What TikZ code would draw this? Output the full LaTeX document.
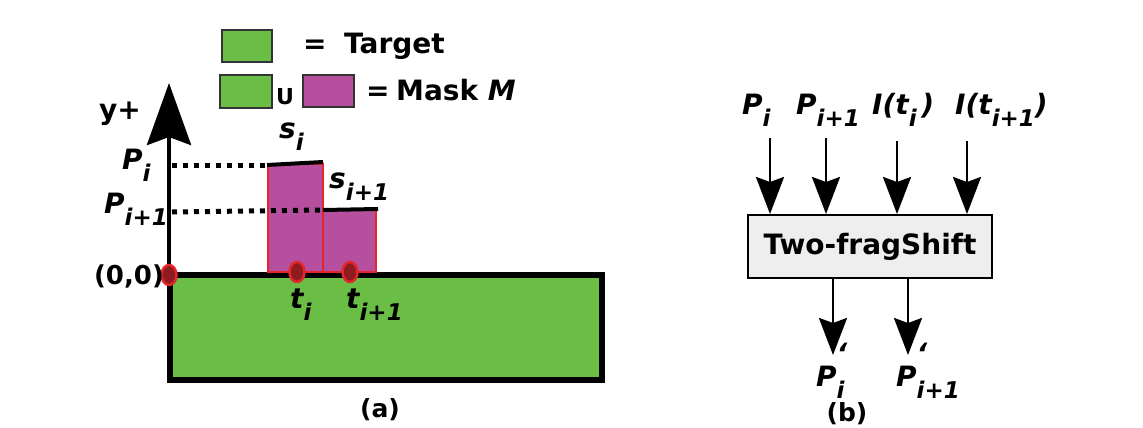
\documentclass[tikz,border=0pt]{standalone}
\usepackage{fontspec}
\setmainfont{DejaVu Sans}
\usetikzlibrary{arrows.meta,shapes.geometric}
\definecolor{tgreen}{HTML}{6ABD45}
\definecolor{mmag}{HTML}{B6509E}
\definecolor{mred}{HTML}{E3262B}
\definecolor{dred}{HTML}{8E1B1E}
\definecolor{boxgray}{HTML}{EEEEEE}
\definecolor{legline}{HTML}{333333}

% symbol with a lowered subscript
\newcommand{\lsub}[2]{#1\raisebox{-0.45em}{\fontsize{23}{23}\selectfont #2}}
% symbol with a lowered subscript and a grave mark above it
\newcommand{\lsubg}[2]{#1\rlap{\raisebox{0.8em}{\symbol{"60}}}\raisebox{-0.45em}{\fontsize{23}{23}\selectfont #2}}

\begin{document}
\begin{tikzpicture}[x=1pt,y=-1pt,
  lbl/.style={font=\fontsize{28}{28}\selectfont\bfseries\itshape, inner sep=0pt, anchor=base west},
  txt/.style={font=\fontsize{28}{28}\selectfont\bfseries, inner sep=0pt},
  legbox/.style={draw=legline, line width=1.5pt},
  maskbox/.style={fill=mmag, draw=mred, line width=2pt},
  pt/.style={shape=ellipse, fill=dred, draw=mred, line width=2.5pt, minimum width=15pt, minimum height=20pt, inner sep=0pt},
  level/.style={line width=5pt, dash pattern=on 5pt off 6pt},
  topline/.style={line width=4pt},
  flow/.style={line width=2.7pt, -{Stealth[length=37pt,width=28pt,inset=5pt]}},
  fragbox/.style={draw, fill=boxgray, line width=2pt, minimum width=244pt, minimum height=63pt, inner sep=0pt,
    font=\fontsize{28}{28}\selectfont\bfseries}]

\useasboundingbox (0,0) rectangle (1143,428);

% ---------- legend ----------
\draw[legbox, fill=tgreen] (222,30) rectangle (272,62);
\node[txt, anchor=base west] (eq1) at (303,54) {=};
\node[txt, anchor=base west] (ltarget) at (344,54) {Target};
\draw[legbox, fill=tgreen] (220,75) rectangle (272,108);
\node[txt, font=\fontsize{22}{22}\selectfont\bfseries] (lunion) at (285,97) {U};
\draw[legbox, fill=mmag] (303,75) rectangle (354,107);
\node[txt, anchor=base west] (eq2) at (366,100) {=};
\node[txt, anchor=base west] (lmask) at (396,100) {Mask \textit{M}};

% ---------- (a): target region and mask ----------
\draw[line width=6pt, fill=tgreen] (170,275) rectangle (602,380);
\coordinate (orig) at (169,275);
\coordinate (ytip) at (169,83);
\draw[line width=4.5pt, -{Stealth[length=62pt,width=44pt,inset=8pt]}] (orig) -- (ytip);
\node[txt, anchor=base west] (yplus) at (99,119) {y+};

\draw[maskbox] (268,272) rectangle (323,164);
\draw[maskbox] (323,272) rectangle (376,210);
\coordinate (si0) at (267,165);
\coordinate (si1) at (323,162);
\coordinate (sj0) at (323,210);
\coordinate (sj1) at (378,209);
\draw[topline] (si0) -- (si1);
\draw[topline] (sj0) -- (sj1);

\coordinate (pa) at (172,165);
\coordinate (pb) at (172,212);
\draw[level] (pa) -- (si0);
\draw[level] (pb) -- (sj0);

\node[pt] (o) at (169,275) {};
\node[pt] (ti) at (297,272) {};
\node[pt] (tj) at (350,272) {};

\node[txt, font=\fontsize{26}{26}\selectfont\bfseries] (origlbl) at (129,276) {(0,0)};
\node[lbl] (plbl) at (122,169) {\lsub{P}{i}};
\node[lbl] (pjlbl) at (104,213) {\lsub{P}{i+1}};
\node[lbl] (slbl) at (279,138) {\lsub{s}{i}};
\node[lbl] (sjlbl) at (329,188) {\lsub{s}{i+1}};
\node[lbl] (tlbl) at (290,308) {\lsub{t}{i}};
\node[lbl] (tjlbl) at (346,308) {\lsub{t}{i+1}};
\node[txt, font=\fontsize{25}{25}\selectfont\bfseries] (capa) at (380,410) {(a)};

% ---------- (b): Two-fragShift block ----------
\node[fragbox] (tfs) at (870,246.5) {Two-fragShift};

\node[lbl] (in1) at (742,114) {\lsub{P}{i}};
\node[lbl] (in2) at (796,114) {\lsub{P}{i+1}};
\node[lbl] (in3) at (872,114) {I(\lsub{t}{i}\,)};
\node[lbl] (in4) at (955,114) {I(\lsub{t}{i+1})};

\coordinate (a1) at (770,138);
\coordinate (a2) at (826,138);
\coordinate (a3) at (897,141);
\coordinate (a4) at (967,141);
\foreach \a in {a1,a2,a3,a4}
  \draw[flow] (\a) -- (\a |- tfs.north);

\coordinate (b1) at (833,355);
\coordinate (b2) at (908,355);
\draw[flow] (tfs.south -| b1) -- (b1);
\draw[flow] (tfs.south -| b2) -- (b2);

\node[lbl] (out1) at (816,386) {\lsubg{P}{i}};
\node[lbl] (out2) at (896,386) {\lsubg{P}{i+1}};
\node[txt, font=\fontsize{25}{25}\selectfont\bfseries] (capb) at (847,414) {(b)};

\end{tikzpicture}
\end{document}
